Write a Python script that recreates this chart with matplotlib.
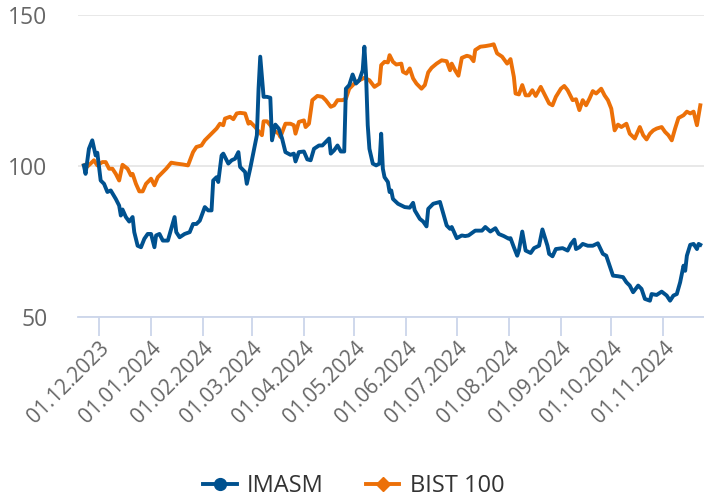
import matplotlib
matplotlib.use("Agg")
import matplotlib.pyplot as plt
import matplotlib.dates as mdates
from matplotlib.lines import Line2D
import pandas as pd

plt.rcParams['font.family'] = ['Open Sans', 'DejaVu Sans']

# IMASM (rebased to 100)
imasm_dates = [
    "2023-11-22", "2023-11-23", "2023-11-25", "2023-11-27", "2023-11-29", "2023-11-30",
    "2023-12-02", "2023-12-04", "2023-12-06", "2023-12-08", "2023-12-11", "2023-12-13",
    "2023-12-14", "2023-12-15", "2023-12-17", "2023-12-19", "2023-12-21", "2023-12-22",
    "2023-12-24", "2023-12-26", "2023-12-28", "2023-12-30",
    "2024-01-01", "2024-01-03", "2024-01-04", "2024-01-06", "2024-01-08", "2024-01-11",
    "2024-01-13", "2024-01-15", "2024-01-16", "2024-01-18", "2024-01-21", "2024-01-24",
    "2024-01-26", "2024-01-28", "2024-01-30",
    "2024-02-02", "2024-02-04", "2024-02-06", "2024-02-07", "2024-02-09", "2024-02-10",
    "2024-02-12", "2024-02-13", "2024-02-16", "2024-02-18", "2024-02-20", "2024-02-22",
    "2024-02-23", "2024-02-26", "2024-02-27", "2024-02-29",
    "2024-03-02", "2024-03-04", "2024-03-05", "2024-03-06", "2024-03-08", "2024-03-10",
    "2024-03-12", "2024-03-13", "2024-03-15", "2024-03-17", "2024-03-19", "2024-03-21",
    "2024-03-24", "2024-03-26", "2024-03-27", "2024-03-29",
    "2024-04-01", "2024-04-03", "2024-04-05", "2024-04-07", "2024-04-10", "2024-04-12",
    "2024-04-16", "2024-04-17", "2024-04-19", "2024-04-21", "2024-04-23", "2024-04-25",
    "2024-04-26", "2024-04-28", "2024-04-30",
    "2024-05-02", "2024-05-04", "2024-05-06", "2024-05-07", "2024-05-08", "2024-05-09",
    "2024-05-10", "2024-05-12", "2024-05-14", "2024-05-16", "2024-05-17", "2024-05-18",
    "2024-05-19", "2024-05-21", "2024-05-22", "2024-05-23", "2024-05-24", "2024-05-27",
    "2024-05-31",
    "2024-06-03", "2024-06-05", "2024-06-06", "2024-06-09", "2024-06-11", "2024-06-13",
    "2024-06-14", "2024-06-17", "2024-06-21", "2024-06-23", "2024-06-25", "2024-06-27",
    "2024-06-28",
    "2024-07-01", "2024-07-04", "2024-07-06", "2024-07-08", "2024-07-12", "2024-07-16",
    "2024-07-18", "2024-07-21", "2024-07-24", "2024-07-26", "2024-07-29",
    "2024-08-01", "2024-08-02", "2024-08-04", "2024-08-06", "2024-08-07", "2024-08-09",
    "2024-08-11", "2024-08-14", "2024-08-16", "2024-08-19", "2024-08-21", "2024-08-24",
    "2024-08-25", "2024-08-27", "2024-08-29",
    "2024-09-02", "2024-09-05", "2024-09-07", "2024-09-09", "2024-09-10", "2024-09-12",
    "2024-09-14", "2024-09-17", "2024-09-20", "2024-09-23", "2024-09-26", "2024-09-28",
    "2024-09-30",
    "2024-10-02", "2024-10-05", "2024-10-08", "2024-10-10", "2024-10-12", "2024-10-14",
    "2024-10-17", "2024-10-19", "2024-10-21", "2024-10-24", "2024-10-25", "2024-10-28",
    "2024-10-31",
    "2024-11-03", "2024-11-05", "2024-11-07", "2024-11-09", "2024-11-11", "2024-11-13",
    "2024-11-14", "2024-11-15", "2024-11-17", "2024-11-19", "2024-11-21", "2024-11-22",
    "2024-11-23",
]
imasm_values = [
    100.2, 97.4, 105.7, 108.5, 103.5, 104.4,
    95.2, 94.1, 91.4, 91.9, 89.1, 86.9, 83.6, 85.6, 83.1, 81.6, 83.1, 78.1, 73.6, 73.1, 75.9, 77.5,
    77.5, 73.1, 77.0, 77.5, 75.3, 75.3, 79.2, 83.1, 78.1, 76.4, 77.5, 78.1, 80.8, 80.8, 81.9,
    86.4, 85.3, 85.3, 95.2, 96.3, 94.7, 103.5, 104.1, 100.8, 101.9, 102.4, 104.6, 99.7, 98.0, 94.1, 99.1,
    104.6, 110.2, 125.6, 136.2, 122.9, 122.9, 122.6, 108.5, 113.7, 112.4, 109.1, 104.6, 103.7, 104.1, 101.5, 104.6,
    104.8, 102.2, 101.9, 105.7, 106.8, 106.8, 109.1, 104.1, 105.2, 106.8, 104.8, 104.8, 125.6, 126.8, 130.3,
    127.3, 128.4, 131.7, 139.5, 130.1, 113.5, 105.7, 100.8, 100.2, 100.8, 110.7, 99.1, 96.3, 94.7, 91.4, 91.9,
    89.1, 87.5, 86.4,
    86.2, 87.8, 85.3, 82.5, 81.6, 80.0, 85.8, 87.5, 88.1, 84.2, 80.3, 79.2, 79.8,
    76.1, 77.0, 76.8, 77.0, 78.6, 78.6, 79.8, 78.3, 79.4, 77.5, 76.8,
    75.9, 76.1, 73.1, 70.3, 72.0, 78.3, 72.0, 71.2, 72.8, 73.6, 79.0, 73.6, 70.9, 70.1, 72.5,
    72.8, 72.0, 74.2, 75.6, 72.5, 73.1, 74.2, 73.6, 73.6, 74.4, 70.9, 70.3, 67.0,
    63.7, 63.5, 63.2, 61.5, 60.4, 58.2, 60.4, 59.3, 56.0, 55.4, 57.6, 57.3, 58.4,
    57.1, 55.4, 57.1, 57.6, 61.5, 67.0, 65.3, 70.3, 73.9, 74.2, 72.5, 74.2, 73.9,
]

# BIST 100 (rebased to 100)
bist_dates = [
    "2023-11-22", "2023-11-23", "2023-11-26", "2023-11-28", "2023-11-30",
    "2023-12-03", "2023-12-05", "2023-12-07", "2023-12-09", "2023-12-11", "2023-12-13",
    "2023-12-15", "2023-12-18", "2023-12-20", "2023-12-21", "2023-12-23", "2023-12-25",
    "2023-12-27", "2023-12-29",
    "2024-01-01", "2024-01-03", "2024-01-05", "2024-01-08", "2024-01-10", "2024-01-13",
    "2024-01-16", "2024-01-20", "2024-01-23", "2024-01-26", "2024-01-28", "2024-01-31",
    "2024-02-02", "2024-02-04", "2024-02-07", "2024-02-09", "2024-02-11", "2024-02-13",
    "2024-02-14", "2024-02-17", "2024-02-19", "2024-02-21", "2024-02-23", "2024-02-26",
    "2024-02-28", "2024-02-29",
    "2024-03-03", "2024-03-05", "2024-03-07", "2024-03-08", "2024-03-10", "2024-03-12",
    "2024-03-14", "2024-03-17", "2024-03-18", "2024-03-21", "2024-03-24", "2024-03-26",
    "2024-03-27", "2024-03-29",
    "2024-04-01", "2024-04-02", "2024-04-04", "2024-04-06", "2024-04-09", "2024-04-12",
    "2024-04-14", "2024-04-17", "2024-04-19", "2024-04-21", "2024-04-24", "2024-04-26",
    "2024-04-28",
    "2024-05-01", "2024-05-04", "2024-05-07", "2024-05-10", "2024-05-13", "2024-05-16",
    "2024-05-17", "2024-05-19", "2024-05-21", "2024-05-22", "2024-05-24", "2024-05-26",
    "2024-05-29", "2024-05-30",
    "2024-06-01", "2024-06-03", "2024-06-05", "2024-06-07", "2024-06-10", "2024-06-12",
    "2024-06-14", "2024-06-16", "2024-06-19", "2024-06-22", "2024-06-25", "2024-06-27",
    "2024-06-28", "2024-06-30",
    "2024-07-02", "2024-07-04", "2024-07-07", "2024-07-09", "2024-07-11", "2024-07-12",
    "2024-07-15", "2024-07-18", "2024-07-21", "2024-07-23", "2024-07-25", "2024-07-28",
    "2024-07-31",
    "2024-08-02", "2024-08-04", "2024-08-05", "2024-08-07", "2024-08-09", "2024-08-11",
    "2024-08-13", "2024-08-15", "2024-08-17", "2024-08-20", "2024-08-22", "2024-08-25",
    "2024-08-27", "2024-08-29",
    "2024-09-01", "2024-09-03", "2024-09-05", "2024-09-06", "2024-09-08", "2024-09-10",
    "2024-09-12", "2024-09-14", "2024-09-16", "2024-09-18", "2024-09-20", "2024-09-22",
    "2024-09-25", "2024-09-27", "2024-09-29",
    "2024-10-01", "2024-10-03", "2024-10-05", "2024-10-07", "2024-10-10", "2024-10-12",
    "2024-10-15", "2024-10-18", "2024-10-20", "2024-10-22", "2024-10-24", "2024-10-26",
    "2024-10-28", "2024-10-31",
    "2024-11-02", "2024-11-04", "2024-11-06", "2024-11-08", "2024-11-10", "2024-11-13",
    "2024-11-15", "2024-11-17", "2024-11-19", "2024-11-21", "2024-11-23",
]
bist_values = [
    100.2, 99.3, 100.8, 101.9, 100.2,
    101.3, 101.3, 99.1, 99.1, 97.4, 95.2, 100.4, 99.1, 96.9, 97.4, 94.1, 91.6, 91.6, 94.1,
    95.8, 93.6, 96.3, 98.0, 99.1, 101.1, 100.8, 100.5, 100.2, 104.6, 106.3, 106.8,
    108.5, 109.6, 111.3, 112.4, 114.0, 113.5, 115.7, 116.3, 115.5, 117.4, 117.6, 117.4, 114.0, 114.6,
    112.9, 111.5, 110.2, 114.8, 114.8, 113.5, 111.8, 110.7, 109.6, 114.0, 114.0, 113.5, 110.7, 114.6,
    115.1, 112.9, 114.0, 121.8, 123.2, 122.9, 121.8, 119.6, 120.1, 121.8, 121.8, 122.3, 125.6,
    127.3, 128.4, 129.2, 128.4, 126.2, 127.3, 133.4, 134.5, 134.3, 136.7, 134.5, 133.6, 133.9, 131.2,
    130.6, 132.3, 129.0, 127.3, 125.6, 126.8, 131.0, 132.5, 133.9, 135.0, 134.7, 131.7, 133.9, 131.7,
    129.9, 135.8, 136.5, 136.2, 134.7, 138.4, 139.5, 139.7, 140.0, 140.3, 137.3, 136.2, 133.9,
    135.4, 129.5, 124.0, 123.7, 126.8, 123.4, 123.4, 125.1, 123.2, 126.2, 124.0, 120.7, 120.1, 122.9,
    125.6, 126.5, 125.1, 124.0, 121.8, 122.1, 118.5, 121.8, 120.1, 122.3, 124.8, 124.0, 125.6, 123.4, 121.8,
    119.0, 111.8, 113.7, 112.9, 114.0, 110.7, 109.1, 112.9, 110.2, 108.8, 110.7, 111.8, 112.4, 112.9,
    111.3, 110.2, 108.5, 112.4, 115.9, 116.8, 118.0, 117.4, 118.0, 113.5, 120.1,
]

series_names = ["IMASM", "BIST 100"]
series_colors = ["#00518f", "#ec7008"]
series_markers = ["o", "D"]

fig = plt.figure(figsize=(7.04, 4.99), dpi=100)
ax = fig.add_axes([78 / 704, 1 - 317 / 499, 626 / 704, 302 / 499])

ax.plot(pd.to_datetime(imasm_dates), imasm_values, color=series_colors[0], lw=2.8,
        solid_joinstyle="round", zorder=3)
ax.plot(pd.to_datetime(bist_dates), bist_values, color=series_colors[1], lw=2.8,
        solid_joinstyle="round", zorder=2)

base = pd.Timestamp("2023-12-01")
ax.set_xlim(base - pd.Timedelta(days=12.5), base + pd.Timedelta(days=360.2))
ax.set_ylim(50, 150)

ax.set_yticks([50, 100, 150])
ax.set_xticks(pd.date_range("2023-12-01", "2024-11-01", freq="MS"))
ax.xaxis.set_major_formatter(mdates.DateFormatter("%d.%m.%Y"))

ax.yaxis.grid(True, color="#e6e6e6", lw=1.3)
ax.set_axisbelow(True)
for s in ["top", "left", "right"]:
    ax.spines[s].set_visible(False)
ax.spines["bottom"].set_color("#ccd6eb")
ax.spines["bottom"].set_linewidth(1.3)

ax.tick_params(axis="y", length=0, pad=22, labelsize=16.5, labelcolor="#666666")
ax.tick_params(axis="x", length=14, width=1.3, color="#ccd6eb", pad=1,
               labelsize=15, labelcolor="#666666")
for lab in ax.get_xticklabels():
    lab.set_rotation(45)
    lab.set_ha("right")
    lab.set_rotation_mode("anchor")

handles = [Line2D([], [], color=c, lw=2.8, marker=m, markersize=8.5 if m == "o" else 7.5)
           for c, m in zip(series_colors, series_markers)]
fig.legend(handles, series_names, loc="center", bbox_to_anchor=(0.503, 0.026), ncol=2,
           frameon=False, fontsize=17, labelcolor="#333333", handlelength=1.4,
           handletextpad=0.45, columnspacing=1.8)

fig.savefig("out.png", dpi=100)
